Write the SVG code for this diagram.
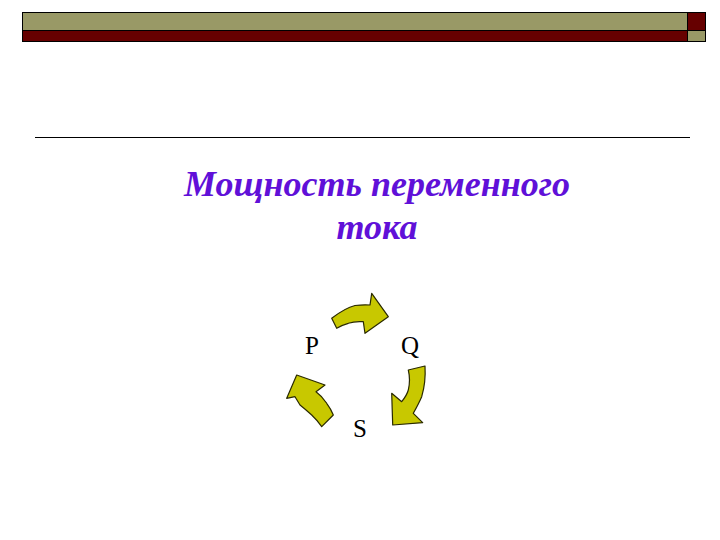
<svg xmlns="http://www.w3.org/2000/svg" width="720" height="540" viewBox="0 0 720 540">
<style>
.olive{fill:#999966;stroke:#000;stroke-width:1}
.red{fill:#660000;stroke:#000;stroke-width:1}
.title{font-family:"Liberation Serif","Times New Roman",serif;font-weight:bold;font-style:italic;font-size:36px;fill:#6010D8;text-anchor:middle}
.lbl{font-family:"Liberation Serif","Times New Roman",serif;font-size:25px;fill:#000;text-anchor:middle}
.arr{fill:#C8C800;stroke:#2a2a00;stroke-width:1.2;stroke-linejoin:round}
</style>
<rect width="720" height="540" fill="#fff"/>
<g id="header">
<rect class="olive" x="22.5" y="12.5" width="665" height="18"/>
<rect class="red" x="22.5" y="30.5" width="665" height="11"/>
<rect class="red" x="687.5" y="12.5" width="18" height="18"/>
<rect class="olive" x="687.5" y="30.5" width="18" height="11"/>
</g>
<line x1="35" y1="137.5" x2="690" y2="137.5" stroke="#000" stroke-width="1"/>
<g id="title">
<text class="title" x="377" y="196">Мощность переменного</text>
<text class="title" x="377" y="239">тока</text>
</g>
<g id="P"><text class="lbl" x="312" y="354">P</text></g>
<g id="Q"><text class="lbl" x="410" y="354">Q</text></g>
<g id="S"><text class="lbl" x="360" y="437">S</text></g>
<g id="connectors">
<path class="arr" d="M331.7,318.3 Q345,308 355,305.5 Q363,304.5 370,305 L371.7,293.3 L388.3,316.7 L365,333.3 L363.3,321.7 Q355,321 348.3,323.3 Q342,325 336.7,328.3 Z"/>
<path class="arr" d="M408.3,370 L425,366 Q426,382 421.7,396.7 Q419,403 413.3,413.3 L422.7,422.7 L392.7,425 L391.7,393.3 L401.7,401.7 Q407,395 408.3,390 Q410.7,380 408.3,370 Z"/>
<path class="arr" d="M296.7,375 L325,385 L316,391.7 Q322,396 326.7,403.3 Q331,409 333.3,415 L321.7,426.7 Q318,421 311.7,415 Q305,409 300,405 L295,396.7 L286.7,398.3 Z"/>
</g>
</svg>
